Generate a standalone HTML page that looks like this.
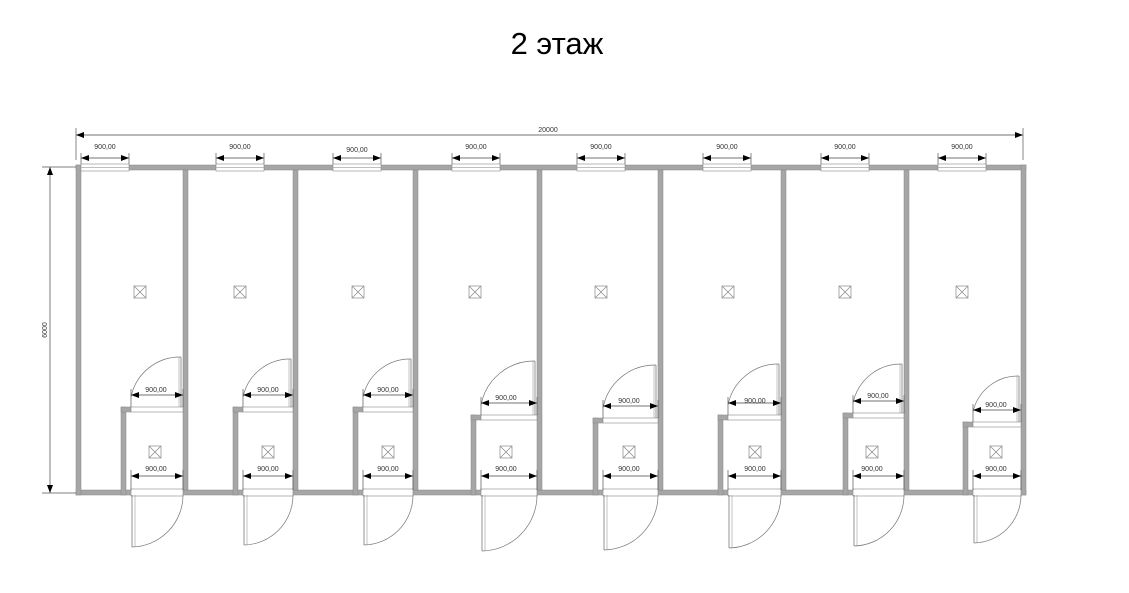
<!DOCTYPE html>
<html><head><meta charset="utf-8"><style>
html,body{margin:0;padding:0;background:#fff;width:1129px;height:593px;overflow:hidden}
svg{display:block}
text{font-family:"Liberation Sans",sans-serif}
</style></head><body>
<svg id="s" width="1129" height="593" viewBox="0 0 1129 593" xmlns="http://www.w3.org/2000/svg">
<defs><marker id="a" markerWidth="8" markerHeight="6" refX="8" refY="3" orient="auto-start-reverse" markerUnits="userSpaceOnUse"><path d="M0,0 L8,3 L0,6z" fill="#000"/></marker></defs>
<text x="557" y="54" font-size="31" text-anchor="middle" fill="#000">2 этаж</text>
<g id="g"></g>
<g font-size="7" fill="#333" text-anchor="middle">
<text x="548" y="132">20000</text>
<text transform="translate(47,330) rotate(-90)" text-anchor="middle">6000</text>
<text x="105" y="149">900,00</text><text x="240" y="149">900,00</text><text x="357" y="152">900,00</text><text x="476" y="149">900,00</text><text x="601" y="149">900,00</text><text x="727" y="149">900,00</text><text x="845" y="149">900,00</text><text x="962" y="149">900,00</text>
<text x="156" y="392">900,00</text><text x="268" y="392">900,00</text><text x="388" y="392">900,00</text><text x="506" y="400">900,00</text><text x="629" y="403">900,00</text><text x="755" y="403">900,00</text><text x="878" y="398">900,00</text><text x="996" y="407">900,00</text>
<text x="156" y="471">900,00</text><text x="268" y="471">900,00</text><text x="388" y="471">900,00</text><text x="506" y="471">900,00</text><text x="629" y="471">900,00</text><text x="755" y="471">900,00</text><text x="872" y="471">900,00</text><text x="996" y="471">900,00</text>
</g>
</svg>
<script>
var g=document.getElementById('g'),h='';
function r(x,y,w,hh,f){h+='<rect x="'+x+'" y="'+y+'" width="'+w+'" height="'+hh+'" fill="'+(f||'#a6a6a6')+'" stroke="#888" stroke-width="0.5"/>';}
function l(x1,y1,x2,y2,m,c){h+='<line x1="'+x1+'" y1="'+y1+'" x2="'+x2+'" y2="'+y2+'" stroke="'+(c||'#444')+'" stroke-width="0.7"'+(m?' marker-start="url(#a)" marker-end="url(#a)"':'')+'/>';}
function box(cx,cy){h+='<rect x="'+(cx-6)+'" y="'+(cy-6)+'" width="12" height="12" fill="none" stroke="#888" stroke-width="0.7"/>';l(cx-6,cy-6,cx+6,cy+6,0,'#888');l(cx+6,cy-6,cx-6,cy+6,0,'#888');}
r(76,165,950,5);r(76,490,950,5);r(76,165,5,330);r(1021,165,5,330);
var P=[183,293,413,537,658,781,904];P.forEach(function(x){r(x,170,5,320);});
var U=[[121,183,407,81,140,155],[233,293,407,216,240,268],[353,413,407,333,358,388],[471,537,415,452,475,506],[593,658,418,577,601,629],[718,781,415,703,728,755],[843,904,413,821,845,872],[963,1021,422,938,962,996]];
U.forEach(function(u){var L=u[0],R=u[1],T=u[2],W=u[3];
 h+='<rect x="'+W+'" y="164" width="48" height="7" fill="#fff" stroke="#888" stroke-width="0.6"/>';l(W,167.5,W+48,167.5,0,'#aaa');
 l(W,158,W+48,158,1);l(W,153,W,164,0,'#555');l(W+48,153,W+48,164,0,'#555');
 r(L,T,5,495-T);r(L,T,10,5);
 var x0=L+10,x1=R;
 h+='<rect x="'+x0+'" y="'+T+'" width="'+(x1-x0)+'" height="5" fill="#fff" stroke="#888" stroke-width="0.6"/>';
 var rad=x1-2-x0;
 l(x1-2,T,x1-2,T-rad,0,'#666');l(x1-4,T,x1-4,T-rad,0,'#aaa');
 h+='<path d="M'+x0+','+(T-10)+' A'+rad+','+rad+' 0 0 1 '+(x1-2)+','+(T-rad)+'" fill="none" stroke="#777" stroke-width="0.7"/>';
 l(x0,T-12,x1,T-12,1);l(x0,T-18,x0,T,0,'#555');l(x1,T-18,x1,T,0,'#555');
 h+='<rect x="'+x0+'" y="489" width="'+(x1-x0)+'" height="7" fill="#fff" stroke="#888" stroke-width="0.6"/>';
 l(x0,476,x1,476,1);l(x0,470,x0,490,0,'#555');l(x1,470,x1,490,0,'#555');
 var rb=x1-x0;l(x0+1,495,x0+1,495+rb,0,'#666');l(x0+4,495,x0+4,495+rb,0,'#aaa');
 h+='<path d="M'+x1+',495 A'+rb+','+rb+' 0 0 1 '+(x0+1)+','+(495+rb)+'" fill="none" stroke="#777" stroke-width="0.7"/>';
 box(u[4],292);box(u[5],452);
});
l(76,135,1023,135,1);l(76,128,76,160,0,'#555');l(1023,128,1023,160,0,'#555');
l(50,167,50,493,1);l(42,167,76,167,0,'#555');l(42,493,76,493,0,'#555');
g.innerHTML=h;
</script>
</body></html>
